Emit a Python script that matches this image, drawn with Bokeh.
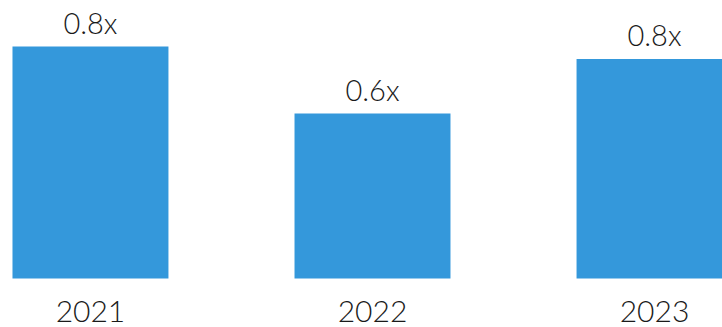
from bokeh.plotting import figure
from bokeh.models import ColumnDataSource, LabelSet, Range1d
from bokeh.core.properties import value
from bokeh.embed import file_html
from bokeh.resources import INLINE

years = ["2021", "2022", "2023"]
values = [0.83, 0.59, 0.785]
value_labels = [f"{v:.1f}x" for v in values]

xs = list(range(len(years)))
src = ColumnDataSource(dict(x=xs, top=values, label=value_labels, year=years, base=[0] * len(xs)))

p = figure(width=722, height=327, output_backend="svg", toolbar_location=None,
           x_range=Range1d(-0.319, 2.241), y_range=Range1d(-0.1753, 0.9946),
           min_border_left=0, min_border_right=0, min_border_top=0, min_border_bottom=0)
p.vbar(x="x", top="top", width=0.553, bottom=0, source=src, color="#3498db", line_color=None)

labels = LabelSet(x="x", y="top", text="label", source=src, text_align="center",
                  text_baseline="alphabetic", y_offset=13, text_font_size="29px",
                  text_font=value("Lato Light"), text_color="#1a1a1a")
p.add_layout(labels)

year_labels = LabelSet(x="x", y="base", text="year", source=src, text_align="center",
                       text_baseline="alphabetic", y_offset=-43, text_font_size="30px",
                       text_font=value("Lato Light"), text_color="#1a1a1a")
p.add_layout(year_labels)

p.xaxis.visible = False
p.yaxis.visible = False
p.xgrid.grid_line_color = None
p.ygrid.grid_line_color = None
p.outline_line_color = None
p.background_fill_color = "white"
p.border_fill_color = "white"

open("out.html", "w").write(file_html(p, INLINE))
